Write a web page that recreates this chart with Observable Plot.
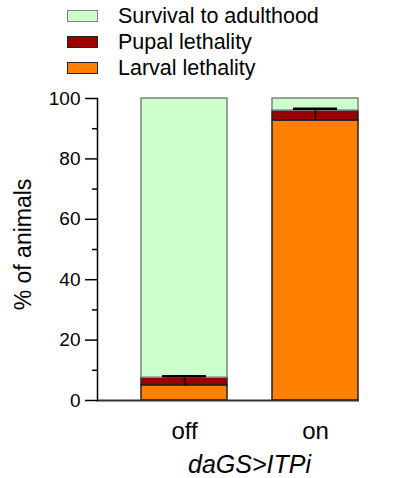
<!DOCTYPE html>
<html>
<head>
<meta charset="utf-8">
<script src="https://cdn.jsdelivr.net/npm/d3@7"></script>
<script src="https://cdn.jsdelivr.net/npm/@observablehq/plot@0.6"></script>
<style>
  body { margin: 0; background: white; font-family: "Liberation Sans", Arial, sans-serif; }
  #wrap { position: relative; width: 401px; height: 478px; }
  #legend { position: absolute; left: 0; top: 0; }
  .item { position: absolute; left: 67px; height: 13px; width: 400px; }
  .sw { position: absolute; left: 0; top: 0; width: 29px; height: 10px; border: 1.5px solid #222; }
  .lab { position: absolute; left: 51px; top: -6px; font-size: 21.5px; line-height: 24px; color: #000; white-space: nowrap; }
</style>
</head>
<body>
<div id="wrap">
  <div id="chart"></div>
  <div id="legend"></div>
</div>
<script>
const groups = ["off", "on"];
const categories = ["Larval lethality", "Pupal lethality", "Survival to adulthood"];
const larval = [5.0, 92.7];
const pupal = [2.55, 3.3];
const survival = [92.45, 4.0];
const pupalErr = [0.45, 0.6];
const fills = {"Larval lethality": "#ff8000", "Pupal lethality": "#990000", "Survival to adulthood": "#ccffcc"};
const strokes = {"Larval lethality": "#222", "Pupal lethality": "#222", "Survival to adulthood": "#808080"};
const yTicks = [0, 20, 40, 60, 80, 100];
const yMinor = [10, 30, 50, 70, 90];

const series = {"Larval lethality": larval, "Pupal lethality": pupal, "Survival to adulthood": survival};
const table = [];
for (const c of categories) groups.forEach((g, i) => table.push({group: g, cat: c, value: series[c][i]}));
const errs = groups.map((g, i) => ({group: g, low: larval[i], high: larval[i] + pupal[i] + pupalErr[i]}));

const plot = Plot.plot({
  width: 401,
  height: 478,
  marginLeft: 97,
  marginRight: 42,
  marginTop: 98,
  marginBottom: 78,
  style: {fontFamily: "'Liberation Sans', Arial, sans-serif", fontSize: "19px", color: "#000", background: "white"},
  x: {domain: groups, range: [141, 358], paddingInner: 0.344, paddingOuter: 0, axis: null},
  y: {domain: [0, 100], axis: null},
  color: {type: "identity"},
  marks: [
    Plot.barY(table, {x: "group", y: "value", fill: d => fills[d.cat], stroke: d => strokes[d.cat], strokeWidth: 1.5}),
    Plot.ruleX(errs, {x: "group", y1: "low", y2: "high", stroke: "#000", strokeWidth: 1.5}),
    Plot.tickY(errs, {x: "group", y: "high", stroke: "#000", strokeWidth: 2.5, insetLeft: 21, insetRight: 21}),
    Plot.ruleY([0], {stroke: "#333", strokeWidth: 2}),
    Plot.frame({anchor: "left", stroke: "#000", strokeWidth: 1.5}),
    Plot.axisY(yTicks, {anchor: "left", tickSize: 12, tickPadding: 5, strokeWidth: 1.5, fontSize: 19, label: null}),
    Plot.axisY(yMinor, {anchor: "left", tickSize: 5, strokeWidth: 1.5, tickFormat: () => "", label: null}),
    Plot.axisX(groups, {anchor: "bottom", tickSize: 0, tickPadding: 21, fontSize: 24, label: null}),
    Plot.text(["daGS>ITPi"], {frameAnchor: "bottom", dy: 72, dx: 21, fontSize: 25, fontStyle: "italic"}),
    Plot.text(["% of animals"], {frameAnchor: "left", textAnchor: "middle", rotate: -90, dx: -74, dy: -5, fontSize: 23})
  ]
});
document.getElementById("chart").appendChild(plot);

const legendItems = ["Survival to adulthood", "Pupal lethality", "Larval lethality"];
const legendTops = [10, 36, 62];
const leg = document.getElementById("legend");
legendItems.forEach((c, i) => {
  const item = document.createElement("div");
  item.className = "item";
  item.style.top = legendTops[i] + "px";
  const sw = document.createElement("div");
  sw.className = "sw";
  sw.style.background = fills[c];
  sw.style.borderColor = strokes[c];
  const lab = document.createElement("div");
  lab.className = "lab";
  lab.textContent = c;
  item.appendChild(sw);
  item.appendChild(lab);
  leg.appendChild(item);
});
</script>
</body>
</html>
